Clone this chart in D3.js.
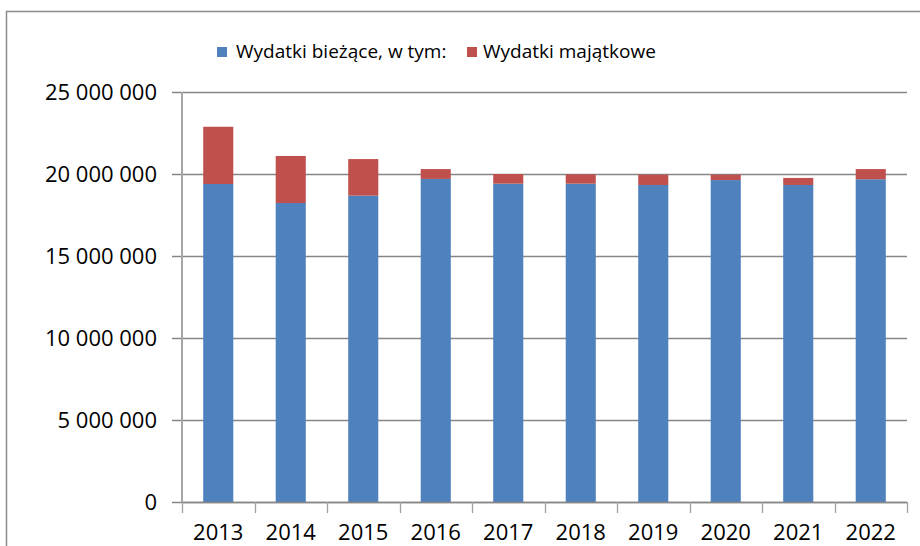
<!DOCTYPE html>
<html>
<head>
<meta charset="utf-8">
<script src="https://cdn.jsdelivr.net/npm/d3@7"></script>
<style>
  html, body { margin: 0; padding: 0; background: #fff; }
  svg { display: block; }
</style>
</head>
<body>
<div id="chart"></div>
<script>
// data (PLN)
const years = ["2013", "2014", "2015", "2016", "2017", "2018", "2019", "2020", "2021", "2022"];
const biezace = [19390000, 18230000, 18680000, 19700000, 19410000, 19410000, 19330000, 19630000, 19330000, 19680000];
const majatkowe = [3490000, 2870000, 2230000, 600000, 590000, 570000, 630000, 330000, 430000, 620000];
const seriesNames = ["Wydatki bieżące, w tym:", "Wydatki majątkowe"];
const seriesColors = ["#4f81bd", "#c0504d"];
const yTicks = [0, 5000000, 10000000, 15000000, 20000000, 25000000];

const width = 920, height = 546;
const font = "'Open Sans', Lato, sans-serif";

const rows = years.map((y, i) => ({ year: y, b: biezace[i], m: majatkowe[i] }));
const stack = d3.stack().keys(["b", "m"])(rows);

const x = d3.scaleBand()
  .domain(years)
  .range([182, 907])
  .paddingInner(0.585)
  .paddingOuter(0.2925);

const y = d3.scaleLinear()
  .domain([0, 25000000])
  .range([502, 92]);

const fmt = d3.formatLocale({ decimal: ",", thousands: " ", grouping: [3], currency: ["", ""] }).format(",d");

const svg = d3.select("#chart").append("svg")
  .attr("width", width)
  .attr("height", height);

// outer frame (chart area border, runs off the right and bottom)
svg.append("rect")
  .attr("x", 6.5).attr("y", 11.5)
  .attr("width", width).attr("height", height)
  .attr("fill", "none")
  .attr("stroke", "#8c8c8c")
  .attr("stroke-width", 1.5);

// gridlines
svg.append("g")
  .selectAll("line")
  .data(yTicks)
  .join("line")
  .attr("x1", 172).attr("x2", 907)
  .attr("y1", d => Math.round(y(d)) + 0.5)
  .attr("y2", d => Math.round(y(d)) + 0.5)
  .attr("stroke", "#868686")
  .attr("stroke-width", 1.3);

// y tick labels
svg.append("g")
  .selectAll("text")
  .data(yTicks)
  .join("text")
  .attr("x", 157)
  .attr("y", d => y(d))
  .attr("dy", "0.36em")
  .attr("text-anchor", "end")
  .attr("font-family", font)
  .attr("font-size", 22)
  .attr("fill", "#000")
  .text(d => fmt(d));

// bars
svg.append("g")
  .selectAll("g")
  .data(stack)
  .join("g")
  .attr("fill", (d, i) => seriesColors[i])
  .selectAll("rect")
  .data(d => d)
  .join("rect")
  .attr("x", d => x(d.data.year))
  .attr("width", x.bandwidth())
  .attr("y", d => y(d[1]))
  .attr("height", d => y(d[0]) - y(d[1]));

// y axis line
svg.append("line")
  .attr("x1", 182).attr("x2", 182)
  .attr("y1", y(25000000)).attr("y2", y(0))
  .attr("stroke", "#a6a6a6")
  .attr("stroke-width", 2);

// x axis line + ticks between categories
svg.append("line")
  .attr("x1", 182).attr("x2", 907)
  .attr("y1", Math.round(y(0)) + 0.5).attr("y2", Math.round(y(0)) + 0.5)
  .attr("stroke", "#868686")
  .attr("stroke-width", 1.3);

const edges = years.map(d => x(d) - x.step() * x.paddingInner() / 2).concat([907]);
svg.append("g")
  .selectAll("line")
  .data(edges)
  .join("line")
  .attr("x1", d => Math.round(d) + 0.5).attr("x2", d => Math.round(d) + 0.5)
  .attr("y1", y(0)).attr("y2", y(0) + 11)
  .attr("stroke", "#a0a0a0")
  .attr("stroke-width", 1.3);

// x labels
svg.append("g")
  .selectAll("text")
  .data(years)
  .join("text")
  .attr("x", d => x(d) + x.bandwidth() / 2)
  .attr("y", 540)
  .attr("text-anchor", "middle")
  .attr("font-family", font)
  .attr("font-size", 22)
  .attr("fill", "#000")
  .text(d => d);

// legend
const legend = svg.append("g").attr("font-family", font).attr("font-size", 19);
const legendX = [217, 467];
const legendTextX = [236, 483];
seriesNames.forEach((name, i) => {
  legend.append("rect")
    .attr("x", legendX[i]).attr("y", 47)
    .attr("width", 10).attr("height", 10)
    .attr("fill", seriesColors[i]);
  legend.append("text")
    .attr("x", legendTextX[i]).attr("y", 58)
    .attr("fill", "#000")
    .text(name);
});
</script>
</body>
</html>
